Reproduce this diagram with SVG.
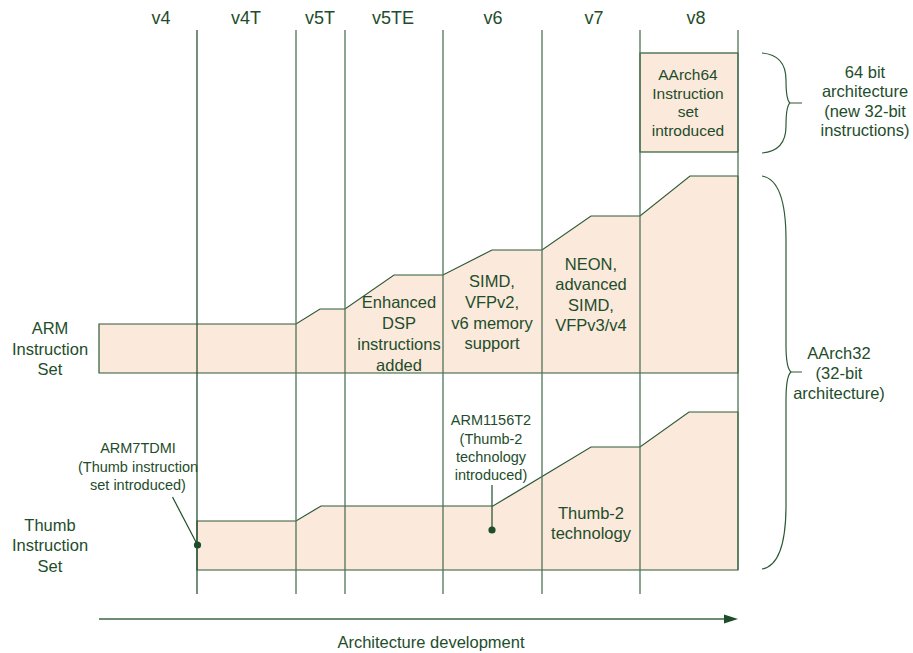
<svg xmlns="http://www.w3.org/2000/svg" width="913" height="653" viewBox="0 0 913 653">
<style>
text{font-family:"Liberation Sans",Arial,sans-serif;fill:#1e4d2b;text-anchor:middle}
.h{font-size:18px}
.m{font-size:16.5px}
.s{font-size:15.5px}
.a{font-size:14.5px}
.band{fill:#fbe9db;stroke:#2d5a36;stroke-width:1.2}
.grid{stroke:#4f7358;stroke-width:1.3;fill:none}
.brace{fill:none;stroke:#2d5a36;stroke-width:1.2}
.ptr{stroke:#1e4d2b;stroke-width:1.2;fill:none}
.dot{fill:#1e4d2b}
</style>
<defs>
<marker id="ah" markerWidth="14" markerHeight="10" refX="0" refY="5" orient="auto" markerUnits="userSpaceOnUse">
<polygon points="0,0.5 14,5 0,9.5" fill="#1e4d2b"/>
</marker>
</defs>
<rect width="913" height="653" fill="#fff"/>
<g id="headers" class="h">
<text x="161" y="24">v4</text>
<text x="246" y="24">v4T</text>
<text x="320" y="24">v5T</text>
<text x="393" y="24">v5TE</text>
<text x="493" y="24">v6</text>
<text x="594" y="24">v7</text>
<text x="696" y="24">v8</text>
</g>
<g id="arm-band">
<polygon class="band" points="99,324 296,324 320,309 345,309 394,275 443,275 492,250 542,250 591,216 640,216 690,176 738,176 738,373 99,373"/>
</g>
<g id="thumb-band">
<polygon class="band" points="197,521 296,521 321,506 493,506 591,447 640,447 689,412 738,412 738,570 197,570"/>
</g>
<g id="aarch64">
<rect class="band" x="640" y="53" width="98" height="99"/>
<text class="s" x="688" y="80">AArch64</text>
<text class="s" x="688" y="98.5">Instruction</text>
<text class="s" x="688" y="117">set</text>
<text class="s" x="688" y="135.5">introduced</text>
</g>
<g id="gridlines">
<line class="grid" x1="197" y1="30" x2="197" y2="594" style="stroke:#2a5233"/>
<line class="grid" x1="296" y1="30" x2="296" y2="594"/>
<line class="grid" x1="345" y1="30" x2="345" y2="594"/>
<line class="grid" x1="443" y1="30" x2="443" y2="594"/>
<line class="grid" x1="542" y1="30" x2="542" y2="594"/>
<line class="grid" x1="640" y1="30" x2="640" y2="594"/>
<line class="grid" x1="738" y1="30" x2="738" y2="570"/>
</g>
<g id="arm-label" class="m">
<text x="50" y="333.5">ARM</text>
<text x="50" y="355">Instruction</text>
<text x="50" y="375">Set</text>
</g>
<g id="thumb-label" class="m">
<text x="50" y="530.5">Thumb</text>
<text x="50" y="551">Instruction</text>
<text x="50" y="571.5">Set</text>
</g>
<g id="v5te-feature" class="m">
<text x="399" y="308">Enhanced</text>
<text x="399" y="329">DSP</text>
<text x="399" y="350">instructions</text>
<text x="399" y="370.5">added</text>
</g>
<g id="v6-feature" class="m">
<text x="492" y="287">SIMD,</text>
<text x="492" y="308">VFPv2,</text>
<text x="492" y="329">v6 memory</text>
<text x="492" y="349">support</text>
</g>
<g id="v7-feature" class="m">
<text x="591" y="270">NEON,</text>
<text x="591" y="290">advanced</text>
<text x="591" y="310.5">SIMD,</text>
<text x="591" y="331">VFPv3/v4</text>
</g>
<g id="thumb2-feature" class="m">
<text x="591" y="519">Thumb-2</text>
<text x="591" y="539">technology</text>
</g>
<g id="arm7tdmi" class="a">
<text x="138" y="453">ARM7TDMI</text>
<text x="138" y="471.5">(Thumb instruction</text>
<text x="138" y="490">set introduced)</text>
</g>
<g id="arm1156t2" class="a">
<text x="491" y="425">ARM1156T2</text>
<text x="491" y="443.5">(Thumb-2</text>
<text x="491" y="462">technology</text>
<text x="491" y="480">introduced)</text>
</g>
<g id="label-64bit" class="m">
<text x="865" y="77.5">64 bit</text>
<text x="865" y="97">architecture</text>
<text x="865" y="116.5">(new 32-bit</text>
<text x="865" y="135.5">instructions)</text>
</g>
<g id="label-aarch32" class="m">
<text x="839" y="358.5">AArch32</text>
<text x="839" y="378.5">(32-bit</text>
<text x="839" y="398.5">architecture)</text>
</g>
<g id="axis-label" class="m">
<text x="431" y="648">Architecture development</text>
</g>
<g id="connectors">
<path class="brace" d="M762,53 Q786,55 786,80 Q786,100 790,103 Q786,106 786,126 Q786,151 762,153 M790,103 H802"/>
<path class="brace" d="M762,176 Q786,180 786,240 L786,345 Q786,368 791,372 Q786,376 786,400 L786,505 Q786,565 762,569 M791,372 H802"/>
<line class="ptr" x1="172.5" y1="497" x2="197.5" y2="545"/>
<circle class="dot" cx="197.5" cy="545" r="3.6"/>
<line class="ptr" x1="492" y1="485" x2="492" y2="530"/>
<circle class="dot" cx="492" cy="530" r="3.6"/>
<line x1="99" y1="619" x2="724" y2="619" stroke="#6d8c74" stroke-width="2" marker-end="url(#ah)"/>
</g>
</svg>
